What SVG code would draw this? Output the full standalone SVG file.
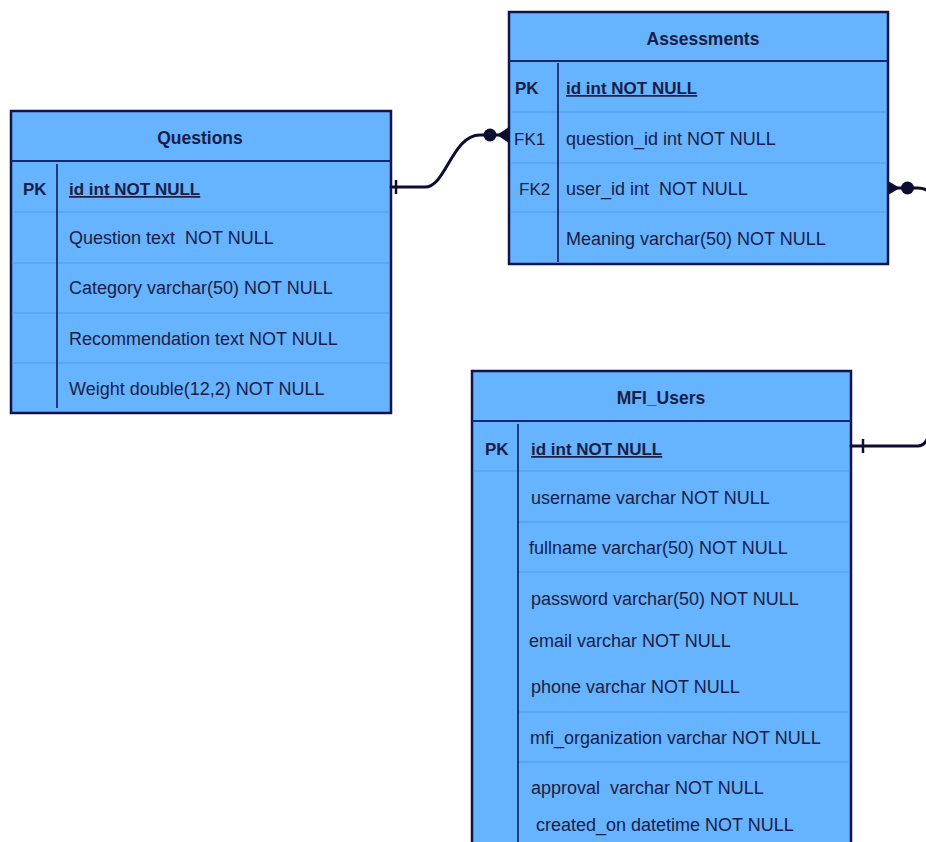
<svg xmlns="http://www.w3.org/2000/svg" width="926" height="842" viewBox="0 0 926 842">
  <style>
    .tbl { fill: #66b3ff; stroke: #11134a; stroke-width: 2.5; }
    .hdr { stroke: #14286e; stroke-width: 2; }
    .row { stroke: #4f9ce6; stroke-width: 1; }
    .div { stroke: #11134a; stroke-width: 1.5; }
    text { font-family: "Liberation Sans", Arial, sans-serif; fill: #1a1d45; }
    .f { font-size: 18px; }
    .k { font-size: 17px; font-weight: bold; }
    .fk { font-size: 17px; }
    .pk { font-size: 17px; font-weight: bold; text-decoration: underline; }
    .h { font-size: 17.5px; font-weight: bold; text-anchor: middle; }
    .rel { fill: none; stroke: #0c0d30; stroke-width: 3; stroke-linecap: round; }
    .tick { stroke: #0c0d30; stroke-width: 2.5; }
    .mk { fill: #0c0d30; }
  </style>

  <!-- Questions -->
  <g id="questions">
    <rect class="tbl" x="11" y="111" width="380" height="302"/>
    <line class="hdr" x1="11" y1="161" x2="391" y2="161"/>
    <line class="row" x1="12" y1="212" x2="390" y2="212"/>
    <line class="row" x1="12" y1="263" x2="390" y2="263"/>
    <line class="row" x1="12" y1="313" x2="390" y2="313"/>
    <line class="row" x1="12" y1="363" x2="390" y2="363"/>
    <line class="div" x1="57" y1="164" x2="57" y2="408"/>
    <text class="h" x="200" y="144">Questions</text>
    <text class="k" x="23" y="195">PK</text>
    <text class="pk" x="69" y="195">id int NOT NULL</text>
    <text class="f" x="69" y="244" xml:space="preserve">Question text  NOT NULL</text>
    <text class="f" x="69" y="294">Category varchar(50) NOT NULL</text>
    <text class="f" x="69" y="345">Recommendation text NOT NULL</text>
    <text class="f" x="69" y="395">Weight double(12,2) NOT NULL</text>
  </g>

  <!-- Assessments -->
  <g id="assessments">
    <rect class="tbl" x="509" y="12" width="379" height="252"/>
    <line class="hdr" x1="509" y1="61" x2="888" y2="61"/>
    <line class="row" x1="510" y1="112" x2="887" y2="112"/>
    <line class="row" x1="510" y1="163" x2="887" y2="163"/>
    <line class="row" x1="510" y1="212" x2="887" y2="212"/>
    <line class="div" x1="558" y1="63" x2="558" y2="262"/>
    <text class="h" x="703" y="45">Assessments</text>
    <text class="k" x="515" y="94">PK</text>
    <text class="pk" x="566" y="94">id int NOT NULL</text>
    <text class="fk" x="514" y="145">FK1</text>
    <text class="f" x="566" y="145">question_id int NOT NULL</text>
    <text class="fk" x="519" y="195">FK2</text>
    <text class="f" x="566" y="195" xml:space="preserve">user_id int  NOT NULL</text>
    <text class="f" x="566" y="245">Meaning varchar(50) NOT NULL</text>
  </g>

  <!-- MFI_Users (continues past the lower edge) -->
  <g id="mfi_users">
    <rect class="tbl" x="472" y="371" width="379" height="500"/>
    <line class="hdr" x1="472" y1="421" x2="851" y2="421"/>
    <line class="row" x1="473" y1="471" x2="850" y2="471"/>
    <line class="row" x1="518" y1="522" x2="850" y2="522"/>
    <line class="row" x1="518" y1="572" x2="850" y2="572"/>
    <line class="row" x1="518" y1="712" x2="850" y2="712"/>
    <line class="row" x1="518" y1="762" x2="850" y2="762"/>
    <line class="div" x1="518" y1="424" x2="518" y2="850"/>
    <text class="h" x="661" y="404">MFI_Users</text>
    <text class="k" x="485" y="455">PK</text>
    <text class="pk" x="531" y="455">id int NOT NULL</text>
    <text class="f" x="531" y="504">username varchar NOT NULL</text>
    <text class="f" x="529" y="554">fullname varchar(50) NOT NULL</text>
    <text class="f" x="531" y="605">password varchar(50) NOT NULL</text>
    <text class="f" x="529" y="647">email varchar NOT NULL</text>
    <text class="f" x="531" y="693">phone varchar NOT NULL</text>
    <text class="f" x="530" y="744">mfi_organization varchar NOT NULL</text>
    <text class="f" x="531" y="794" xml:space="preserve">approval  varchar NOT NULL</text>
    <text class="f" x="536" y="831">created_on datetime NOT NULL</text>
  </g>

  <!-- Relationships -->
  <g id="connectors">
    <!-- Questions.id to Assessments.question_id -->
    <path class="rel" d="M 391,187 H 425 C 446,187 452,135 480,135 H 500"/>
    <line class="tick" x1="396" y1="180" x2="396" y2="194"/>
    <circle class="mk" cx="490" cy="135" r="6.5"/>
    <path class="mk" d="M 509,127 L 497,135 L 509,143 Z"/>

    <!-- Assessments.user_id to MFI_Users.id -->
    <path class="mk" d="M 888,181 L 900,188 L 888,195 Z"/>
    <circle class="mk" cx="907.5" cy="188" r="6.5"/>
    <path class="rel" d="M 895,188 H 918 Q 924,188 928,191"/>

    <path class="rel" d="M 851,446 H 918 Q 924,446 928,438"/>
    <line class="tick" x1="863" y1="439" x2="863" y2="453"/>
  </g>
</svg>
